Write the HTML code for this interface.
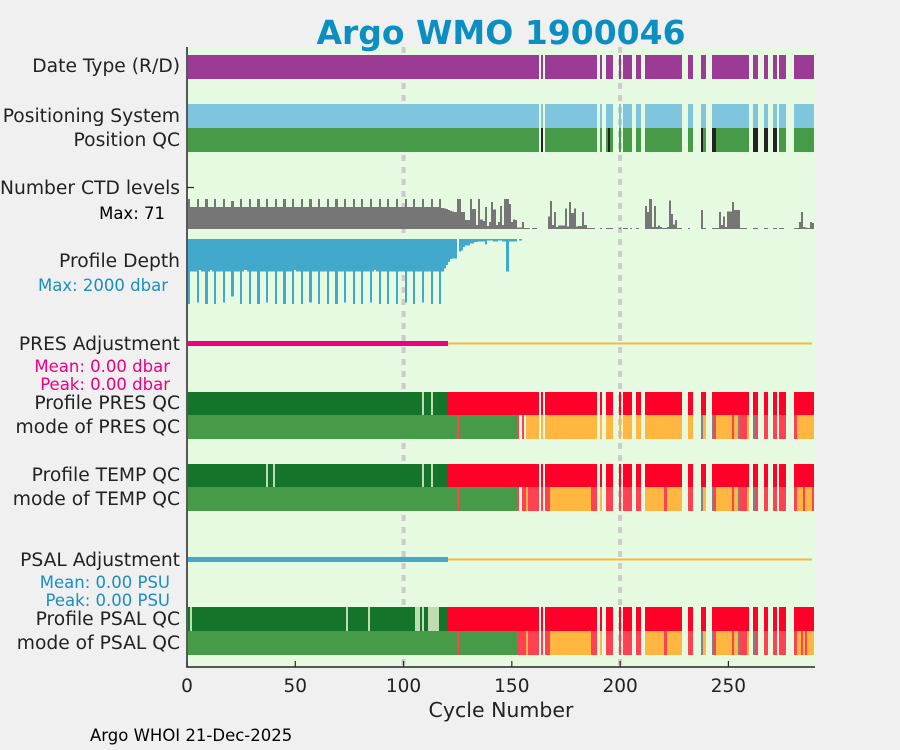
<!DOCTYPE html>
<html><head><meta charset="utf-8"><title>Argo WMO 1900046</title>
<style>
html,body{margin:0;padding:0;background:#f0f0f0;}
svg{display:block;font-family:"DejaVu Sans","Liberation Sans",sans-serif;}
</style></head>
<body>
<svg id="chart" width="900" height="750" viewBox="0 0 900 750" xmlns="http://www.w3.org/2000/svg">
<rect x="0" y="0" width="900" height="750" fill="#f0f0f0"/>
<rect x="187" y="47" width="628" height="620" fill="#e6f9e1"/>
<g id="grid"></g>
<g id="marks" shape-rendering="crispEdges"></g>
<text x="501" y="44" text-anchor="middle" font-size="33" font-weight="bold" fill="#0b8fc0">Argo WMO 1900046</text>
<g font-size="18.7" fill="#222" text-anchor="end">
<text x="180" y="72">Date Type (R/D)</text>
<text x="180" y="122">Positioning System</text>
<text x="180" y="146">Position QC</text>
<text x="180" y="194">Number CTD levels</text>
<text x="165" y="219" font-size="16.5" fill="#000">Max: 71</text>
<text x="168" y="291" font-size="16.5" fill="#1a8fc0">Max: 2000 dbar</text>
<text x="180" y="267">Profile Depth</text>
<text x="180" y="350">PRES Adjustment</text>
<text x="170" y="372" font-size="16.5" fill="#ee0080">Mean: 0.00 dbar</text>
<text x="170" y="390" font-size="16.5" fill="#ee0080">Peak: 0.00 dbar</text>
<text x="180" y="409">Profile PRES QC</text>
<text x="180" y="433">mode of PRES QC</text>
<text x="180" y="481">Profile TEMP QC</text>
<text x="180" y="505">mode of TEMP QC</text>
<text x="180" y="566">PSAL Adjustment</text>
<text x="170" y="588" font-size="16.5" fill="#1a8fc0">Mean: 0.00 PSU</text>
<text x="170" y="606" font-size="16.5" fill="#1a8fc0">Peak: 0.00 PSU</text>
<text x="180" y="625">Profile PSAL QC</text>
<text x="180" y="649">mode of PSAL QC</text>
</g>
<g id="axes"></g>
<text x="501" y="717" text-anchor="middle" font-size="20.5" fill="#222">Cycle Number</text>
<text x="90" y="741" font-size="16.5" fill="#000">Argo WHOI 21-Dec-2025</text>
</svg>
<script>
const NCYC = 289;
const xTicks = [0, 50, 100, 150, 200, 250];
const gridCycles = [100, 200];
const missing = [163,165,190,192,193,197,198,199,201,206,207,210,211,229,230,231,234,235,236,237,240,241,242,260,261,264,265,266,269,270,273,277,278,279,280];
const posBad = [164,195,238,243,244,262,263,267,268,271,272];
const ctdLevels = [
71,52,52,52, 71,52,52,52, 71,52,52,52, 71,52,52,52, 71,52,52,52, 66,52,52,52, 71,52,52,52, 71,52,52,52,
71,52,52,52, 71,52,52,52, 71,52,52,52, 71,52,52,52, 71,52,52,52, 71,52,52,52, 71,52,52,52, 71,52,52,52,
71,52,52,52, 71,52,52,52, 71,52,52,52, 71,52,52,52, 71,52,52,52, 71,52,52,52, 71,52,52,52, 71,52,52,52,
71,52,52,52, 71,52,52,52, 71,52,52,52, 71,52,52,52, 71,52,52,52,
71,50,48,47,45,43,42,40,71,71,40,40,21,21,71,47,47,9,71,22,19,52,7,16,64,46,10,17,54,10,71,71,59,16,23,21,
3,3,16,2,2,2,0,2,2,0,0,0,0,0,30,66,9,40,5,8,8,8,49,6,64,38,49,6,7,7,40,9,2,2,2,2,0,0,2,0,0,2,2,2,0,0,0,
2,0,2,2,0,2,0,0,2,0,0,0,54,40,71,5,54,5,8,5,2,2,5,68,35,11,21,2,2,0,0,0,2,0,0,0,0,0,45,2,0,0,0,2,2,2,
40,9,30,5,42,42,64,45,45,45,2,2,2,0,0,0,2,2,0,0,0,2,2,0,0,2,2,0,2,2,0,0,0,0,0,2,2,16,40,5,4,2,16,14];
const profDepth = [
2000,1000,1000,1000, 1950,955,1000,1000, 2000,1000,955,1000, 2000,1000,1000,1000, 1950,1000,1000,1000, 1775,1000,1000,1000,
2000,1000,955,1000, 2000,1000,1000,1000, 2000,1000,1000,1000, 1950,1000,1000,1000, 2000,1000,1000,1000, 2000,1000,1000,1000,
2000,955,1000,1000, 2000,1000,1000,1000, 1950,1000,1000,1000, 2000,1000,1000,1000, 2000,1000,1000,1000, 2000,1000,1000,1000,
1950,1000,1000,1000, 2000,1000,1000,1000, 2000,1000,1000,1000, 1950,1000,955,1000, 2000,1000,1000,1000, 2000,1000,1000,1000,
2000,1000,1000,1000, 1950,1000,1000,1000, 2000,1000,1000,1000, 1950,1000,1000,1000, 2000,1000,1000,1000,
2000,1000,900,800,700,620,600,600,0,390,360,250,205,205,140,140,90,90,80,80,80,170,50,50,50,80,80,50,50,80,80,1000,80,80,80,80,0,20];
const profPresSegs = [[1,120,'A'],[121,289,'F'],[109,109,'N'],[113,113,'N']];
const profTempSegs = [[1,120,'A'],[121,289,'F'],[37,37,'N'],[40,40,'N'],[109,109,'N'],[113,113,'N']];
const profPsalSegs = [[1,120,'A'],[121,289,'F'],[2,2,'N'],[74,74,'N'],[84,84,'N'],[106,107,'N'],[109,109,'N'],[112,116,'N']];
const modePresSegs = [[1,152,'1'],[125,125,'4'],[153,153,'4'],[155,155,'4'],[157,289,'3'],[238,238,'9'],[243,243,'9'],[244,244,'4'],[252,252,'4'],[255,255,'9'],[256,258,'4'],[262,262,'9'],[263,263,'4'],[265,265,'9'],[267,276,'4'],[281,281,'4']];
const modeTempSegs = [[1,152,'1'],[125,125,'4'],[153,153,'4'],[155,156,'4'],[157,157,'3'],[158,167,'4'],[168,186,'3'],[187,189,'4'],[191,191,'3'],[194,196,'4'],[200,209,'4'],[212,220,'3'],[221,221,'4'],[222,228,'3'],[232,233,'4'],[238,238,'9'],[239,239,'3'],[243,243,'9'],[244,244,'4'],[245,251,'3'],[252,252,'4'],[253,254,'3'],[255,255,'9'],[256,258,'4'],[259,259,'3'],[262,262,'9'],[263,263,'4'],[265,265,'9'],[267,276,'4'],[281,281,'4'],[282,289,'3'],[285,285,'4'],[289,289,'4']];
const modePsalSegs = [[1,152,'1'],[125,125,'4'],[153,156,'4'],[157,157,'3'],[158,167,'4'],[168,186,'3'],[187,189,'4'],[191,191,'3'],[194,196,'4'],[200,209,'4'],[212,220,'3'],[221,221,'4'],[222,228,'3'],[232,233,'4'],[238,238,'9'],[239,239,'3'],[243,243,'9'],[244,244,'4'],[245,251,'3'],[252,252,'4'],[253,254,'3'],[255,255,'9'],[256,258,'4'],[259,259,'3'],[262,262,'9'],[263,263,'4'],[265,265,'9'],[267,276,'4'],[281,281,'4'],[282,289,'3'],[284,284,'4'],[286,286,'4']];
const presAdjSegs = [[1,120,'adj'],[121,288,'none']];
const psalAdjSegs = [[1,120,'adj'],[121,288,'none']];

const NS = 'http://www.w3.org/2000/svg';
const X0 = 187, XMAX = 290, PW = 628;
function xs(c){ return X0 + c * PW / XMAX; }
const QCCOL = {A:'#14752a', F:'#ff0029', N:'#c0dcb3', '1':'#479a47', '3':'#ffb742', '4':'#ff4152', '9':'#808080'};
function mk(tag, attrs, parent){
  const e = document.createElementNS(NS, tag);
  for (const k in attrs) e.setAttribute(k, attrs[k]);
  parent.appendChild(e); return e;
}
function expand(segs){
  const a = new Array(NCYC + 1).fill(null);
  segs.forEach(s => { for (let c = s[0]; c <= s[1]; c++) a[c] = s[2]; });
  missing.forEach(c => { a[c] = null; });
  return a;
}
const marks = document.getElementById('marks');
const grid = document.getElementById('grid');

gridCycles.forEach(g => {
  const l = mk('line', {x1: xs(g), x2: xs(g), y1: 47, y2: 667, stroke: '#cccccc', 'stroke-width': 4, 'stroke-dasharray': '6,6'}, grid);
  
  
});

function barRow(codes, colorFn, y0, h, name){
  const g = mk('g', {}, marks);
  
  
  for (let c = 1; c <= NCYC; c++){
    const v = codes[c];
    if (v === null) continue;
    const x1 = Math.round(xs(c - 0.5)), x2 = Math.round(xs(c + 0.5));
    const r = mk('rect', {x: x1, y: y0, width: Math.max(1, x2 - x1), height: h, fill: colorFn(v)}, g);
    
    
  }
}
const present = expand([[1, NCYC, 'R']]);
barRow(present, () => '#9c3b96', 55, 24, 'date-type');
barRow(present, () => '#80c5de', 104, 24, 'positioning-system');
const posq = present.map((v, c) => v === null ? null : (posBad.indexOf(c) >= 0 ? 'B' : 'G'));
barRow(posq, v => v === 'B' ? '#222222' : '#479a47', 128, 24, 'position-qc');

// CTD levels
const ctdG = mk('g', {}, marks);


const CTD_BASE = 229, CTD_MAX = 71, CTD_H = 30;
ctdLevels.forEach((v, i) => {
  const c = i + 1;
  if (!v || missing.indexOf(c) >= 0) return;
  const h = Math.max(1, v / CTD_MAX * CTD_H);
  const x1 = Math.round(xs(c - 0.5)), x2 = Math.round(xs(c + 0.5));
  const r = mk('rect', {x: x1, y: CTD_BASE - h, width: Math.max(1, x2 - x1), height: h, fill: '#767676'}, ctdG);
  
  
});

// Profile depth
const depG = mk('g', {}, marks);


const DEP_TOP = 239, DEP_SCALE = 65 / 2000;
profDepth.forEach((v, i) => {
  const c = i + 1;
  if (!v) return;
  const x1 = Math.round(xs(c - 0.5)), x2 = Math.round(xs(c + 0.5));
  const r = mk('rect', {x: x1, y: DEP_TOP, width: Math.max(1, x2 - x1), height: Math.max(1.5, v * DEP_SCALE), fill: '#42a9cd'}, depG);
  
  
});

// Adjustment lines
function adjLine(segs, y, color, name){
  segs.forEach(s => {
    const adj = s[2] === 'adj';
    const l = mk('line', {x1: xs(s[0] - 0.5), x2: xs(s[1] + 0.5), y1: y, y2: y, stroke: adj ? color : '#f5b942', 'stroke-width': adj ? 5 : 2}, marks);
    
    
  });
}
adjLine(presAdjSegs, 343.5, '#ee0080', 'pres-adjustment-line');
adjLine(psalAdjSegs, 559.5, '#42a9cd', 'psal-adjustment-line');

const qcF = v => QCCOL[v];
barRow(expand(profPresSegs), qcF, 392, 23, 'profile-pres-qc');
barRow(expand(modePresSegs), qcF, 415, 24, 'mode-pres-qc');
barRow(expand(profTempSegs), qcF, 464, 23, 'profile-temp-qc');
barRow(expand(modeTempSegs), qcF, 487, 24, 'mode-temp-qc');
barRow(expand(profPsalSegs), qcF, 607, 24, 'profile-psal-qc');
barRow(expand(modePsalSegs), qcF, 631, 24, 'mode-psal-qc');

// Axes
const axes = document.getElementById('axes');
const yax = mk('line', {x1: 187, x2: 187, y1: 47, y2: 667.5, stroke: '#262626', 'stroke-width': 1.5}, axes);


const xax = mk('line', {x1: 186.3, x2: 815, y1: 667, y2: 667, stroke: '#262626', 'stroke-width': 1.5}, axes);


const yt = mk('line', {x1: 187, x2: 194, y1: 187.5, y2: 187.5, stroke: '#262626', 'stroke-width': 1.2}, axes);


xTicks.forEach(t => {
  const l = mk('line', {x1: xs(t), x2: xs(t), y1: 667, y2: 661, stroke: '#262626', 'stroke-width': 1.2}, axes);
  
  
  const tx = mk('text', {x: xs(t), y: 692, 'text-anchor': 'middle', 'font-size': 18.5, fill: '#222'}, axes);
  tx.textContent = String(t);
  
  
});
</script>
</body></html>
